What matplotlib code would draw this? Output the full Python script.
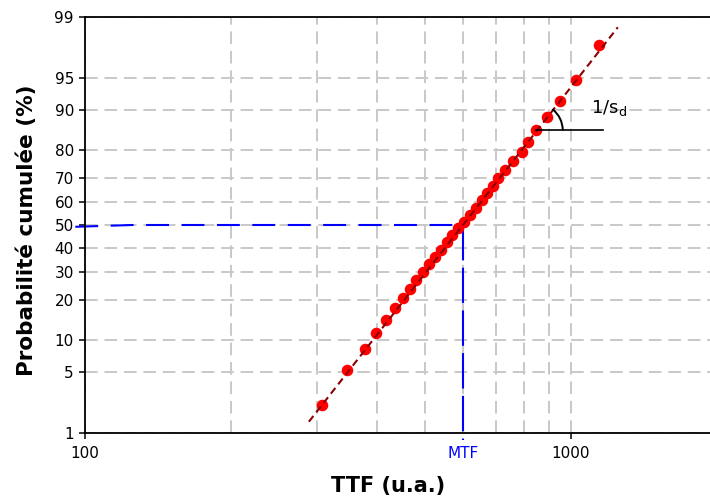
import numpy as np
import matplotlib
matplotlib.use('Agg')
import matplotlib.pyplot as plt
from matplotlib.patches import Arc
from matplotlib.transforms import ScaledTranslation
from statistics import NormalDist

# data
ttf = [308, 346, 377, 397, 416, 435, 451, 466, 481, 496, 510, 525, 540, 556,
       569, 586, 602, 620, 638, 656, 672, 691, 708, 731, 760, 792, 816, 847,
       892, 952, 1023, 1142]
prob = [2.2, 5.2, 8.3, 11.4, 14.5, 17.6, 20.7, 23.8, 26.9, 29.9, 33.0, 36.1,
        39.2, 42.3, 45.4, 48.5, 51.5, 54.6, 57.7, 60.8, 63.9, 67.0, 70.1, 73.1,
        76.2, 79.3, 82.4, 85.5, 88.6, 91.7, 94.8, 97.8]

fit_ttf = [289, 1250]
fit_prob = [1.39, 98.65]

mtf = 600
mtf_h_ttf = [95.5, 125, 600]
mtf_h_prob = [49.2, 50, 50]
mtf_v_prob = [50, 0.81]

y_ticks = [1, 5, 10, 20, 30, 40, 50, 60, 70, 80, 90, 95, 99]
x_major = [100, 600, 1000]
x_major_labels = ['100', 'MTF', '1000']
x_minor = [200, 300, 400, 500, 700, 800, 900]

nd = NormalDist()
_ppf = np.vectorize(nd.inv_cdf, otypes=[float])
_cdf = np.vectorize(nd.cdf, otypes=[float])


def probit(p):
    p = np.clip(np.asarray(p, dtype=float) / 100.0, 1e-7, 1 - 1e-7)
    return _ppf(p)


def inv_probit(z):
    return _cdf(np.asarray(z, dtype=float)) * 100.0


plt.rcParams['font.family'] = 'DejaVu Sans'

fig = plt.figure(figsize=(7.10, 5.01), dpi=100)
ax = fig.add_axes([85 / 710, 68 / 501, 632 / 710, 416 / 501])

ax.set_xscale('log')
ax.set_yscale('function', functions=(probit, inv_probit))
ax.set_xlim(100, 2000)
ax.set_ylim(1, 99)

# ticks
ax.set_yticks(y_ticks)
ax.set_yticklabels([str(v) for v in y_ticks])
ax.yaxis.set_minor_locator(matplotlib.ticker.NullLocator())
ax.set_xticks(x_major)
ax.set_xticklabels(x_major_labels)
ax.set_xticks(x_minor, minor=True)
ax.xaxis.set_minor_formatter(matplotlib.ticker.NullFormatter())
ax.tick_params(axis='both', which='major', labelsize=11, length=4, width=1.1,
               direction='out', pad=5)
ax.tick_params(axis='x', which='minor', length=0)
ax.tick_params(axis='y', which='major', pad=4)
mtf_tick = ax.xaxis.get_major_ticks()[1]
mtf_tick.label1.set_color('#0000ff')
mtf_tick.tick1line.set_visible(False)

# grid
grid_kw = dict(color='#c8c8c8', linewidth=1.4, linestyle=(0, (6.5, 3.5)))
ax.grid(True, which='major', axis='both', **grid_kw)
ax.grid(True, which='minor', axis='x', **grid_kw)
ax.set_axisbelow(True)

for side in ['left', 'bottom', 'top']:
    ax.spines[side].set_linewidth(1.3)
    ax.spines[side].set_color('black')
ax.spines['right'].set_visible(False)

# points and fit
ax.plot(ttf, prob, 'o', color='#ff0000', markersize=7.3, zorder=3)
ax.plot(fit_ttf, fit_prob, color='#8b0000', linewidth=1.5,
        linestyle=(0, (3.5, 2.2)), zorder=4)

# MTF construction
ax.plot(mtf_h_ttf, mtf_h_prob, color='#0000ff', linewidth=1.5,
        linestyle=(0, (11, 6)), clip_on=False, zorder=2.5)
ax.plot([mtf, mtf], mtf_v_prob, color='#0000ff', linewidth=1.5,
        linestyle=(0, (17, 3.5)), clip_on=False, zorder=2.5)

# slope annotation 1/s_d
i_ref = 27
x0, y0 = ttf[i_ref], prob[i_ref]
ax.plot([x0, 1165], [y0, y0], color='black', linewidth=1.2, zorder=5)
p1 = ax.transData.transform((fit_ttf[0], fit_prob[0]))
p2 = ax.transData.transform((fit_ttf[1], fit_prob[1]))
ang = np.degrees(np.arctan2(p2[1] - p1[1], p2[0] - p1[0]))
arc = Arc((0, 0), 54, 54, theta1=0, theta2=ang, color='black', linewidth=1.4,
          transform=ScaledTranslation(x0, y0, ax.transData), zorder=5)
ax.add_patch(arc)
ax.annotate('1/s$_\\mathregular{d}$', xy=(x0, y0), xytext=(55, 22),
            textcoords='offset pixels', fontsize=13, ha='left', va='center')

# axis labels
ax.set_xlabel('TTF (u.a.)', fontsize=15, fontweight='bold', va='center')
ax.xaxis.set_label_coords((388 - 85) / 632, (433 - 486) / 416)
ax.set_ylabel('Probabilité cumulée (%)', fontsize=15.5, fontweight='bold',
              va='center')
ax.yaxis.set_label_coords((27 - 85) / 632, (433 - 230) / 416)

fig.savefig('out.png', dpi=100)
